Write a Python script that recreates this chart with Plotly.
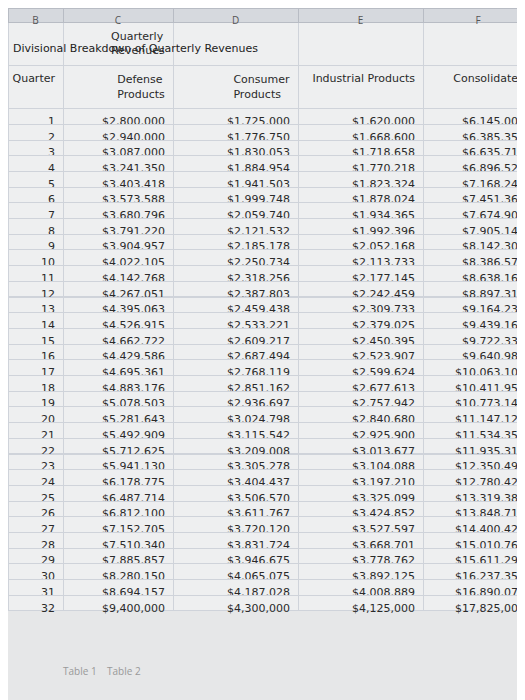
import plotly.graph_objs as go

quarters = list(range(1, 33))
defense = [2800000, 2940000, 3087000, 3241350, 3403418, 3573588, 3680796, 3791220, 3904957,
           4022105, 4142768, 4267051, 4395063, 4526915, 4662722, 4429586, 4695361, 4883176,
           5078503, 5281643, 5492909, 5712625, 5941130, 6178775, 6487714, 6812100, 7152705,
           7510340, 7885857, 8280150, 8694157, 9400000]
consumer = [1725000, 1776750, 1830053, 1884954, 1941503, 1999748, 2059740, 2121532, 2185178,
            2250734, 2318256, 2387803, 2459438, 2533221, 2609217, 2687494, 2768119, 2851162,
            2936697, 3024798, 3115542, 3209008, 3305278, 3404437, 3506570, 3611767, 3720120,
            3831724, 3946675, 4065075, 4187028, 4300000]
industrial = [1620000, 1668600, 1718658, 1770218, 1823324, 1878024, 1934365, 1992396, 2052168,
              2113733, 2177145, 2242459, 2309733, 2379025, 2450395, 2523907, 2599624, 2677613,
              2757942, 2840680, 2925900, 3013677, 3104088, 3197210, 3325099, 3424852, 3527597,
              3668701, 3778762, 3892125, 4008889, 4125000]
consolidated = [6145000, 6385350, 6635711, 6896522, 7168245, 7451360, 7674901, 7905148, 8142303,
                8386572, 8638169, 8897313, 9164234, 9439161, 9722334, 9640987, 10063104, 10411951,
                10773142, 11147121, 11534351, 11935310, 12350496, 12780422, 13319383, 13848719,
                14400422, 15010765, 15611294, 16237350, 16890074, 17825000]
col_names = ["Quarter", "Defense Products", "Consumer Products", "Industrial Products", "Consolidated"]
sheet_cols = ["B", "C", "D", "E", "F"]

money = lambda v: [f"${x:,.0f}" for x in v]
columns = [
    ["", col_names[0]] + [str(q) for q in quarters],
    ["Quarterly Revenues", col_names[1]] + money(defense),
    ["", col_names[2]] + money(consumer),
    ["", col_names[3]] + money(industrial),
    ["", col_names[4]] + money(consolidated),
]

fig = go.Figure(go.Table(
    columnwidth=[55, 110, 125, 125, 110],
    header=dict(values=sheet_cols, height=14, fill_color="#d6d9de",
                line_color="#b8bcc4", font=dict(size=10, color="#555"), align="center"),
    cells=dict(values=columns, height=15.7, align="right",
               fill_color="#eeeff0", line_color="#cfd3da",
               font=dict(family="DejaVu Sans", size=11, color="#2a2a2a")),
    domain=dict(x=[0, 1], y=[0.1, 1]),
))

fig.add_annotation(text="Divisional Breakdown of Quarterly Revenues", x=0.005, y=0.955,
                   xref="paper", yref="paper", showarrow=False, xanchor="left",
                   font=dict(family="DejaVu Sans", size=11, color="#222"))
fig.add_annotation(text="Table 1    Table 2", x=0.1, y=0.04, xref="paper", yref="paper",
                   showarrow=False, xanchor="left", font=dict(size=10, color="#999"))

fig.update_layout(width=525, height=700, margin=dict(l=0, r=0, t=0, b=0),
                  paper_bgcolor="#e6e7e8")
fig.write_html("out.html")
